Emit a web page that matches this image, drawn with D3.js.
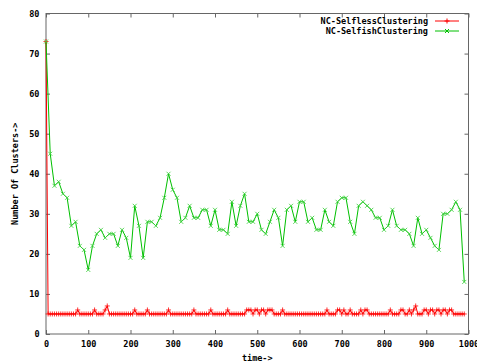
<!DOCTYPE html>
<html>
<head>
<meta charset="utf-8">
<script src="https://cdn.jsdelivr.net/npm/d3@7"></script>
<style>
  html, body { margin: 0; padding: 0; background: #fff; }
  svg { display: block; }
  text { font-family: "DejaVu Sans Mono", "Liberation Mono", monospace; font-weight: bold; font-size: 8.5px; fill: #000; }
</style>
</head>
<body>
<svg id="chart" width="477" height="364"></svg>
<script>
// ---- data ----
const seriesNames = ["NC-SelflessClustering", "NC-SelfishClustering"];
const xTicks = [0, 100, 200, 300, 400, 500, 600, 700, 800, 900, 1000];
const yTicks = [0, 10, 20, 30, 40, 50, 60, 70, 80];
const xLabel = "time->";
const yLabel = "Number Of Clusters->";

// Selfless series: sampled every 5 time units, t = 0 .. 990
const selflessStep = 5;
const selflessValues = [
  73,5,5,5,5,5,5,5,5,5,5,5,5,5,5,6,5,5,5,5,
  5,5,5,6,5,5,5,5,6,7,5,5,5,5,5,5,5,5,5,5,
  5,5,6,5,5,5,5,5,6,5,5,5,5,5,5,5,5,5,6,5,
  5,5,5,5,5,5,5,5,5,5,6,5,5,5,5,5,5,5,6,5,
  5,5,5,5,5,5,6,5,5,5,5,5,5,5,5,6,6,6,5,6,
  6,5,6,6,5,6,6,6,5,5,5,5,6,5,5,5,5,5,5,5,
  5,5,5,5,5,5,5,5,5,5,5,5,5,6,5,5,5,5,6,6,
  5,6,5,5,6,5,5,5,5,6,5,6,6,5,5,5,5,5,5,5,
  5,5,5,6,5,5,5,5,6,6,5,5,6,5,6,7,5,5,5,6,
  6,5,6,6,5,6,6,5,6,6,5,6,6,5,5,5,5,5,5
];

// Selfish series: sampled every 10 time units, t = 0 .. 990
const selfishStep = 10;
const selfishValues = [
  73,45,37,38,35,34,27,28,22,21,
  16,22,25,26,24,25,25,22,26,24,
  19,32,27,19,28,28,27,29,34,40,
  36,34,28,29,32,29,29,31,31,27,
  31,26,26,25,33,27,32,35,28,28,
  30,26,25,28,31,29,22,31,32,28,
  33,33,28,29,26,26,31,28,27,33,
  34,34,28,25,32,33,32,31,29,29,
  26,27,31,27,26,26,25,22,29,25,
  26,24,22,21,30,30,31,33,31,13
];

// ---- chart ----
const W = 477, H = 364;
const plot = { left: 46, right: 468.5, top: 13.5, bottom: 334 };
const svg = d3.select("#chart");

const x = d3.scaleLinear().domain([0, 1000]).range([plot.left, plot.right]);
const y = d3.scaleLinear().domain([0, 80]).range([plot.bottom, plot.top]);

const borderColor = "#666";
const colors = ["#ff0000", "#00c000"];

const selfless = selflessValues.map((v, i) => ({ t: i * selflessStep, v }));
const selfish = selfishValues.map((v, i) => ({ t: i * selfishStep, v }));

// axes (inward ticks, mirrored)
function styleAxis(g) {
  g.select(".domain").remove();
  g.selectAll(".tick line").attr("stroke", borderColor);
  g.selectAll(".tick text").attr("fill", "#000").style("font-family", null).style("font-size", null);
  g.attr("font-family", null).attr("font-size", null);
}
svg.append("g").attr("transform", `translate(0,${plot.bottom})`)
  .call(d3.axisBottom(x).tickValues(xTicks).tickFormat(d3.format("d")).tickSizeInner(-4).tickSizeOuter(0).tickPadding(7))
  .call(styleAxis);
svg.append("g").attr("transform", `translate(0,${plot.top})`)
  .call(d3.axisTop(x).tickValues(xTicks).tickFormat("").tickSizeInner(-4).tickSizeOuter(0))
  .call(styleAxis);
svg.append("g").attr("transform", `translate(${plot.left},0)`)
  .call(d3.axisLeft(y).tickValues(yTicks).tickFormat(d3.format("d")).tickSizeInner(-4).tickSizeOuter(0).tickPadding(6.5))
  .call(styleAxis);
svg.append("g").attr("transform", `translate(${plot.right},0)`)
  .call(d3.axisRight(y).tickValues(yTicks).tickFormat("").tickSizeInner(-4).tickSizeOuter(0))
  .call(styleAxis);

// border
svg.append("rect")
  .attr("x", plot.left).attr("y", plot.top)
  .attr("width", plot.right - plot.left).attr("height", plot.bottom - plot.top)
  .attr("fill", "none").attr("stroke", borderColor).attr("stroke-width", 1);

const line = d3.line().x(d => x(d.t)).y(d => y(d.v));

function plusPath(cx, cy, r) { return `M${cx - r},${cy}H${cx + r}M${cx},${cy - r}V${cy + r}`; }
function crossPath(cx, cy, r) { return `M${cx - r},${cy - r}L${cx + r},${cy + r}M${cx - r},${cy + r}L${cx + r},${cy - r}`; }

// series 1: selfless (red, +)
const g1 = svg.append("g");
g1.append("path").datum(selfless).attr("d", line)
  .attr("fill", "none").attr("stroke", colors[0]).attr("stroke-width", 1);
g1.append("path")
  .attr("d", selfless.map(d => plusPath(x(d.t), y(d.v), 2.5)).join(""))
  .attr("fill", "none").attr("stroke", colors[0]).attr("stroke-width", 1).attr("opacity", 0.8);

// series 2: selfish (green, x)
const g2 = svg.append("g");
g2.append("path").datum(selfish).attr("d", line)
  .attr("fill", "none").attr("stroke", colors[1]).attr("stroke-width", 1);
g2.append("path")
  .attr("d", selfish.map(d => crossPath(x(d.t), y(d.v), 2)).join(""))
  .attr("fill", "none").attr("stroke", "#40d040").attr("stroke-width", 1).attr("opacity", 0.85);

// legend
const legend = svg.append("g");
seriesNames.forEach((name, i) => {
  const ly = 21 + i * 10;
  legend.append("text").attr("x", 428).attr("y", ly).attr("dy", "0.35em")
    .attr("text-anchor", "end").text(name);
  legend.append("line").attr("x1", 435).attr("x2", 459).attr("y1", ly).attr("y2", ly)
    .attr("stroke", colors[i]).attr("stroke-width", 1);
  legend.append("path")
    .attr("d", i === 0 ? plusPath(447, ly, 2.5) : crossPath(447, ly, 2))
    .attr("fill", "none").attr("stroke", colors[i]).attr("stroke-width", 1);
});

// axis labels
svg.append("text").attr("x", (plot.left + plot.right) / 2).attr("y", 358).attr("dy", "0.35em")
  .attr("text-anchor", "middle").text(xLabel);
svg.append("text")
  .attr("transform", `translate(15,${(plot.top + plot.bottom) / 2}) rotate(-90)`)
  .attr("dy", "0.35em").attr("text-anchor", "middle").text(yLabel);
</script>
</body>
</html>
